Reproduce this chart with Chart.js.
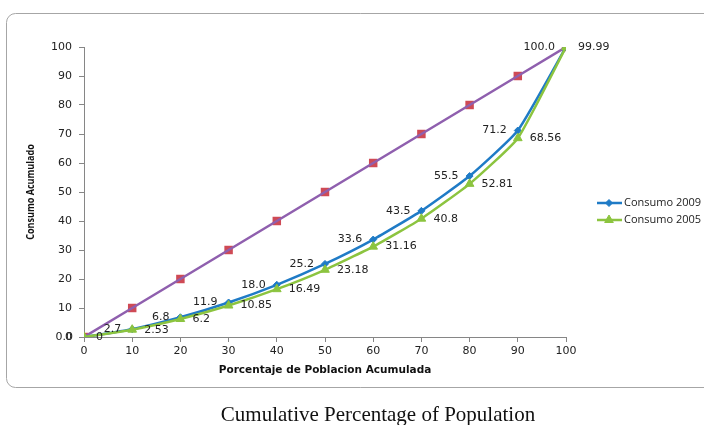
<!DOCTYPE html>
<html>
<head>
<meta charset="utf-8">
<script src="https://cdn.jsdelivr.net/npm/chart.js@4/dist/chart.umd.min.js"></script>
<style>
  html, body { margin: 0; padding: 0; background: #fff; }
  #wrap { position: relative; width: 704px; height: 425px; }
</style>
</head>
<body>
<div id="wrap"><canvas id="grafico" width="704" height="425"></canvas></div>
<script>
// ---- datos ----
const poblacion = [0, 10, 20, 30, 40, 50, 60, 70, 80, 90, 100];
const igualdad = [0, 10, 20, 30, 40, 50, 60, 70, 80, 90, 100];
const consumo2009 = [0, 2.7, 6.8, 11.9, 18.0, 25.2, 33.6, 43.5, 55.5, 71.2, 100.0];
const consumo2005 = [0, 2.53, 6.2, 10.85, 16.49, 23.18, 31.16, 40.8, 52.81, 68.56, 99.99];
const etiq2009 = ["0.0", "2.7", "6.8", "11.9", "18.0", "25.2", "33.6", "43.5", "55.5", "71.2", "100.0"];
const etiq2005 = ["0", "2.53", "6.2", "10.85", "16.49", "23.18", "31.16", "40.8", "52.81", "68.56", "99.99"];
const ticksY = [0, 10, 20, 30, 40, 50, 60, 70, 80, 90, 100];

const AZUL = '#1f7bc6', VERDE = '#8cc43f', MORADO = '#8f5fae', ROJO = '#cf4a55', CRUZ = '#8a8fd0';
const pares = (ys) => poblacion.map((x, i) => ({ x: x, y: ys[i] }));
const ultimo = (v, resto) => poblacion.map((x, i) => i === poblacion.length - 1 ? v : resto);

// marco, titulos, leyenda y etiquetas dibujados a mano
const extras = {
  id: 'extras',
  beforeDraw(chart) {
    const c = chart.ctx;
    c.save();
    c.strokeStyle = '#a6a6a6'; c.lineWidth = 1;
    c.beginPath(); c.roundRect(6.5, 13.5, 720, 374, 9); c.stroke();
    c.restore();
  },
  afterDraw(chart) {
    const c = chart.ctx, a = chart.chartArea;
    c.save();
    // etiquetas de datos
    c.font = '11px "DejaVu Sans"'; c.fillStyle = '#222'; c.textBaseline = 'middle';
    chart.getDatasetMeta(2).data.forEach((p, i) => { c.textAlign = 'right'; c.fillText(etiq2009[i], p.x - 11, p.y); });
    chart.getDatasetMeta(3).data.forEach((p, i) => { c.textAlign = 'left'; c.fillText(etiq2005[i], p.x + 12, p.y); });
    // titulos de ejes
    c.fillStyle = '#111'; c.textAlign = 'center';
    c.font = 'bold 10.5px "DejaVu Sans"';
    c.fillText('Porcentaje de Poblacion Acumulada', (a.left + a.right) / 2, 370);
    c.save(); c.translate(31, (a.top + a.bottom) / 2); c.rotate(-Math.PI / 2); c.scale(0.86, 1);
    c.font = 'bold 10.5px "Open Sans"';
    c.fillText('Consumo Acumulado', 0, 0); c.restore();
    // leyenda
    const items = [[2, 203], [3, 220]];
    items.forEach(([idx, y]) => {
      const ds = chart.data.datasets[idx];
      c.strokeStyle = ds.borderColor; c.fillStyle = ds.backgroundColor; c.lineWidth = 2.5;
      c.beginPath(); c.moveTo(597, y); c.lineTo(622, y); c.stroke();
      c.lineWidth = 1;
      Chart.helpers.drawPoint(c, { pointStyle: ds.pointStyle, radius: ds.pointRadius, borderWidth: 1 }, 609, y);
      c.fillStyle = '#222'; c.textAlign = 'left'; c.font = '11px "Open Sans"';
      c.fillText(ds.label, 624, y);
    });
    // leyenda inferior
    c.font = '21px "Liberation Serif"'; c.fillStyle = '#111'; c.textAlign = 'center'; c.textBaseline = 'alphabetic';
    c.fillText('Cumulative Percentage of Population', 378, 421);
    c.restore();
  }
};

// fijar el area del grafico
const fijarY = (s) => { s.width = 84; };
const fijarX = (s) => { s.height = 88; };

new Chart(document.getElementById('grafico'), {
  type: 'line',
  data: {
    datasets: [
      { label: 'Igualdad', data: pares(igualdad), borderColor: MORADO, backgroundColor: MORADO, borderWidth: 2.5,
        pointStyle: ultimo('crossRot', false), pointRadius: ultimo(5, 0),
        pointBorderColor: CRUZ, pointBorderWidth: 1.5, order: 3 },
      { label: 'Cuadros', data: pares(igualdad), showLine: false, pointStyle: 'rect', pointRadius: 6,
        backgroundColor: ROJO, borderColor: ROJO, pointBorderWidth: 0, order: 4 },
      { label: 'Consumo 2009', data: pares(consumo2009), borderColor: AZUL, backgroundColor: AZUL, borderWidth: 2.5,
        pointStyle: 'rectRot', pointRadius: 3.5, pointBorderWidth: 1, tension: 0.15, order: 2 },
      { label: 'Consumo 2005', data: pares(consumo2005), borderColor: VERDE, backgroundColor: VERDE, borderWidth: 2.5,
        pointStyle: 'triangle', pointRadius: 5, pointBorderWidth: 1, tension: 0.15, order: 1 }
    ]
  },
  options: {
    responsive: false, animation: false, maintainAspectRatio: false,
    layout: { padding: { left: 0, top: 47, right: 138, bottom: 0 } },
    plugins: { legend: { display: false }, tooltip: { enabled: false } },
    scales: {
      x: { type: 'linear', min: 0, max: 100, afterFit: fijarX,
        ticks: { stepSize: 10, padding: 3, color: '#222', font: { family: 'DejaVu Sans', size: 11 } },
        grid: { drawOnChartArea: false, tickLength: 5, color: '#868686' },
        border: { color: '#868686', width: 1 } },
      y: { type: 'linear', min: 0, max: 100, afterFit: fijarY,
        afterBuildTicks: (s) => { s.ticks = ticksY.map(v => ({ value: v })); },
        ticks: { padding: 7, color: '#222', font: { family: 'DejaVu Sans', size: 11 } },
        grid: { drawOnChartArea: false, tickLength: 5, color: '#868686' },
        border: { color: '#868686', width: 1 } }
    }
  },
  plugins: [extras]
});
</script>
</body>
</html>
